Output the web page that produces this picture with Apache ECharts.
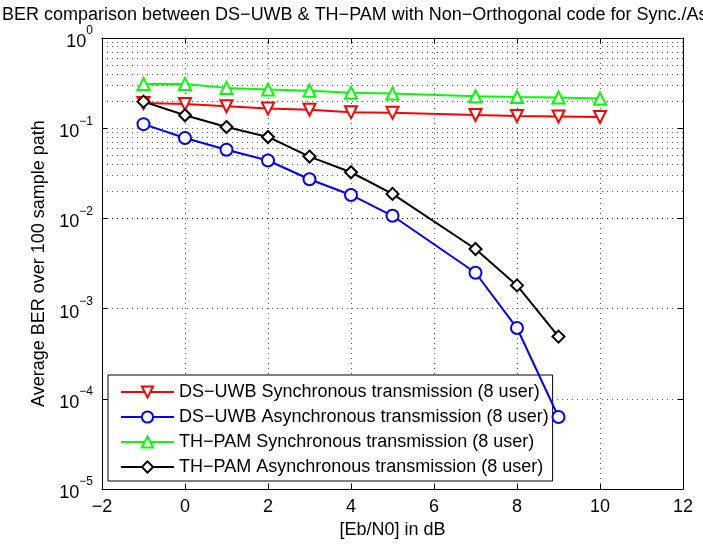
<!DOCTYPE html>
<html><head><meta charset="utf-8">
<script src="https://cdn.jsdelivr.net/npm/echarts@6/dist/echarts.min.js"></script>
<style>html,body{margin:0;padding:0;background:#fff}#c{width:703px;height:544px}</style>
</head><body><div id="c"></div>
<script>
const xSync = [-1, 0, 1, 2, 3, 4, 5, 7, 8, 9, 10];
const xAsync = [-1, 0, 1, 2, 3, 4, 5, 7, 8, 9];
const dsSync = [0.19, 0.185, 0.175, 0.165, 0.16, 0.15, 0.148, 0.14, 0.137, 0.135, 0.133];
const dsAsync = [0.111, 0.078, 0.0578, 0.0439, 0.0272, 0.0182, 0.0107, 0.0025, 0.00061, 0.000063];
const thSync = [0.31, 0.31, 0.28, 0.268, 0.26, 0.248, 0.242, 0.226, 0.222, 0.219, 0.213];
const thAsync = [0.197, 0.139, 0.103, 0.080, 0.0485, 0.0325, 0.0187, 0.00458, 0.00181, 0.00049];
const seriesNames = [
  'DS−UWB Synchronous transmission (8 user)',
  'DS−UWB Asynchronous transmission (8 user)',
  'TH−PAM Synchronous transmission (8 user)',
  'TH−PAM Asynchronous transmission (8 user)'
];
const titleText = 'BER comparison between DS−UWB & TH−PAM with Non−Orthogonal code for Sync./Async. transmission';
const minorVals = [];
for (let e = -5; e < 0; e++) for (let m = 2; m <= 9; m++) minorVals.push(m * Math.pow(10, e));

const FONT = '"Liberation Sans", Arial, Helvetica, sans-serif';
const FS = 18;
const zip = (xs, ys) => xs.map((x, i) => [x, ys[i]]);
const minus = s => String(s).replace('-', '−');
const grid = 'rgba(0,0,0,0.65)';
const dots = [1, 4];

const mk = (name, color, symbol, rot, xs, ys) => ({
  name, type: 'line', data: zip(xs, ys), color,
  symbol, symbolSize: 12, symbolRotate: rot, showSymbol: true,
  lineStyle: { width: 2, color },
  itemStyle: { color, borderColor: color, borderWidth: 2 },
  z: 5, animation: false
});

const chart = echarts.init(document.getElementById('c'), null, { renderer: 'canvas' });
chart.setOption({
  animation: false,
  backgroundColor: '#fff',
  textStyle: { fontFamily: FONT, color: '#000' },
  graphic: [{
    type: 'text', x: 2, y: 6, silent: true,
    style: { text: titleText, font: 'normal ' + FS + 'px ' + FONT, fill: '#000', textAlign: 'left', textVerticalAlign: 'top' }
  }],
  grid: { left: 102, right: 20, top: 38, bottom: 47, show: false },
  legend: {
    orient: 'vertical', left: 108, top: 375,
    backgroundColor: '#fff', borderColor: '#000', borderWidth: 1, borderRadius: 0,
    padding: [8, 4, 5, 12], itemGap: 7, itemWidth: 53, itemHeight: 14,
    textStyle: { fontFamily: FONT, fontSize: FS, color: '#000' },
    data: seriesNames
  },
  xAxis: [{
    type: 'value', min: -2, max: 12, interval: 2,
    name: '[Eb/N0] in dB', nameLocation: 'middle', nameGap: 27,
    nameTextStyle: { fontFamily: FONT, fontSize: FS, color: '#000' },
    axisLine: { show: true, onZero: false, lineStyle: { color: '#000', width: 1 } },
    axisTick: { show: true, inside: true, length: 5, lineStyle: { color: '#000' } },
    axisLabel: { fontFamily: FONT, fontSize: FS, color: '#000', margin: 9, formatter: v => minus(v) },
    splitLine: { show: true, lineStyle: { color: grid, type: dots, width: 1 } }
  }, {
    type: 'value', position: 'top', min: -2, max: 12, interval: 2,
    axisLine: { show: true, onZero: false, lineStyle: { color: '#000', width: 1 } },
    axisTick: { show: true, inside: true, length: 5, lineStyle: { color: '#000' } },
    axisLabel: { show: false }, splitLine: { show: false }
  }],
  yAxis: [{
    type: 'log', logBase: 10, min: 1e-5, max: 1,
    name: 'Average BER over 100 sample path', nameLocation: 'middle', nameGap: 47,
    nameTextStyle: { fontFamily: FONT, fontSize: FS, color: '#000' },
    axisLine: { show: true, onZero: false, lineStyle: { color: '#000', width: 1 } },
    axisTick: { show: true, inside: true, length: 5, lineStyle: { color: '#000' } },
    axisLabel: {
      fontFamily: FONT, color: '#000', margin: 9,
      formatter: v => '{b|10}{e|' + minus(Math.round(Math.log10(v))) + '}',
      rich: {
        b: { fontFamily: FONT, fontSize: FS, color: '#000', verticalAlign: 'bottom' },
        e: { fontFamily: FONT, fontSize: 12, color: '#000', padding: [0, 0, 14, 0] }
      }
    },
    splitLine: { show: true, lineStyle: { color: grid, type: dots, width: 1 } }
  }, {
    type: 'log', logBase: 10, min: 1e-5, max: 1, position: 'right',
    axisLine: { show: true, onZero: false, lineStyle: { color: '#000', width: 1 } },
    axisTick: { show: true, inside: true, length: 5, lineStyle: { color: '#000' } },
    axisLabel: { show: false }, splitLine: { show: false }
  }],
  series: [
    {
      name: 'minor', type: 'line', data: [], silent: true, z: 1,
      markLine: {
        silent: true, symbol: 'none', animation: false,
        label: { show: false },
        lineStyle: { color: grid, type: dots, width: 1 },
        data: minorVals.map(v => ({ yAxis: v }))
      }
    },
    mk(seriesNames[0], '#ff0000', 'emptyTriangle', 180, xSync, dsSync),
    mk(seriesNames[1], '#0000ff', 'emptyCircle', 0, xAsync, dsAsync),
    mk(seriesNames[2], '#00ff00', 'emptyTriangle', 0, xSync, thSync),
    mk(seriesNames[3], '#000000', 'emptyDiamond', 0, xAsync, thAsync)
  ]
});
</script></body></html>
